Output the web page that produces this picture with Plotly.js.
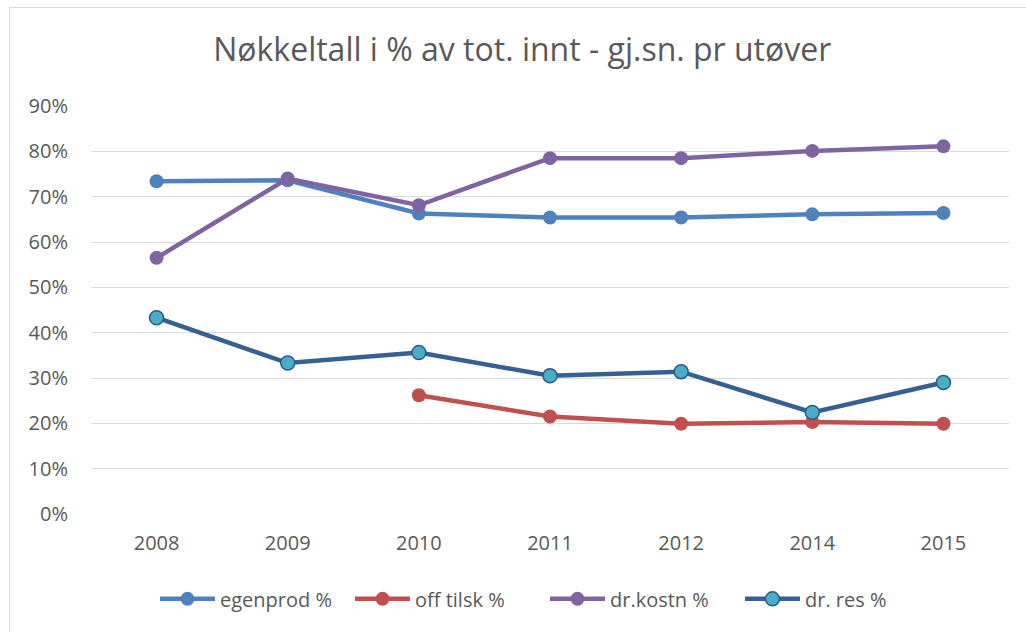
<!DOCTYPE html>
<html>
<head>
<meta charset="utf-8">
<script src="https://cdn.plot.ly/plotly-3.0.1.min.js"></script>
<style>
  html, body { margin: 0; padding: 0; background: #ffffff; overflow: hidden; }
  #chart { width: 1026px; height: 632px; }
  #frame { position: absolute; left: 9px; top: 7px; width: 1100px; height: 700px;
           border: 1px solid #D9D9D9; pointer-events: none; }
</style>
</head>
<body>
<div id="chart"></div>
<div id="frame"></div>
<script>
const categories = ["2008", "2009", "2010", "2011", "2012", "2014", "2015"];
const egenprod = [0.734, 0.736, 0.663, 0.654, 0.654, 0.661, 0.664];
const offTilsk = [null, null, 0.262, 0.215, 0.199, 0.203, 0.199];
const drKostn = [0.565, 0.740, 0.681, 0.785, 0.785, 0.801, 0.811];
const drRes = [0.433, 0.333, 0.356, 0.305, 0.314, 0.224, 0.290];
const yTickVals = [0, 0.1, 0.2, 0.3, 0.4, 0.5, 0.6, 0.7, 0.8, 0.9];
const yTickText = ["0%", "10%", "20%", "30%", "40%", "50%", "60%", "70%", "80%", "90%"];

const FONT = "Open Sans, sans-serif";

function trace(name, y, lineColor, markerFill, markerLine) {
  return {
    type: "scatter",
    mode: "lines+markers",
    name: name,
    x: categories,
    y: y,
    connectgaps: false,
    line: { color: lineColor, width: 4.5 },
    marker: { size: 14, color: markerFill, line: { color: markerLine, width: markerLine === markerFill ? 0 : 1.5 } }
  };
}

const data = [
  trace("egenprod %", egenprod, "#4F81BD", "#4F81BD", "#4F81BD"),
  trace("off tilsk %", offTilsk, "#C0504D", "#C0504D", "#C0504D"),
  trace("dr.kostn %", drKostn, "#8064A2", "#8064A2", "#8064A2"),
  trace("dr. res %", drRes, "#366092", "#4BACC6", "#2C5A8C")
];

const layout = {
  width: 1026,
  height: 632,
  paper_bgcolor: "#ffffff",
  plot_bgcolor: "#ffffff",
  margin: { l: 91, r: 17, t: 106, b: 118 },
  font: { family: FONT, color: "#595959", size: 20 },
  title: {
    text: "Nøkkeltall i % av tot. innt - gj.sn. pr utøver",
    font: { family: FONT, size: 32, color: "#595959" },
    xref: "container", x: 0.509, xanchor: "center",
    yref: "container", y: 0.921, yanchor: "middle"
  },
  xaxis: {
    type: "category",
    range: [-0.5, 6.5],
    showgrid: false,
    zeroline: false,
    showline: false,
    ticks: "",
    tickfont: { family: FONT, size: 20, color: "#595959" },
    ticklabelstandoff: 15
  },
  yaxis: {
    range: [0, 0.9],
    tickvals: yTickVals,
    ticktext: yTickText,
    showgrid: true,
    gridcolor: "#D9D9D9",
    gridwidth: 1,
    zeroline: false,
    showline: false,
    ticks: "",
    tickfont: { family: FONT, size: 20, color: "#595959" },
    ticklabelstandoff: 22
  },
  showlegend: true,
  legend: {
    orientation: "h",
    x: 0.0697, xanchor: "left",
    y: -0.208, yanchor: "middle",
    font: { family: FONT, size: 20, color: "#595959" },
    itemwidth: 55,
    entrywidth: 125,
    entrywidthmode: "pixels"
  }
};

Plotly.newPlot("chart", data, layout, { displayModeBar: false, staticPlot: true });
</script>
</body>
</html>
